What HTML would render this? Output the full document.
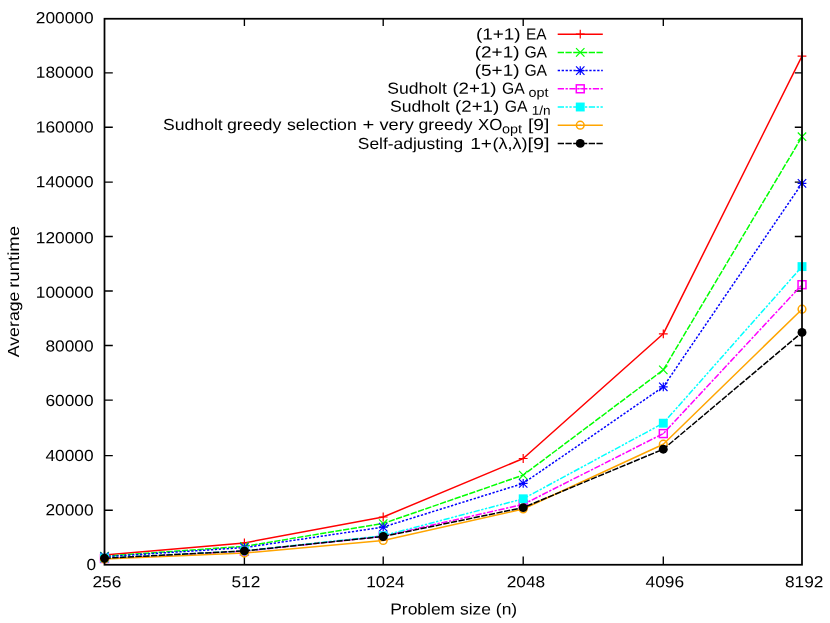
<!DOCTYPE html>
<html><head><meta charset="utf-8"><title>Average runtime vs problem size</title>
<style>
html,body{margin:0;padding:0;background:#fff;}
body{width:830px;height:623px;overflow:hidden;font-family:"Liberation Sans", sans-serif;}
svg{display:block;will-change:transform;}
svg text{font-family:"Liberation Sans", sans-serif;fill:#000;text-rendering:geometricPrecision;}
</style></head><body>
<svg width="830" height="623" viewBox="0 0 830 623">
<rect x="0" y="0" width="830" height="623" fill="#ffffff"/>

<path d="M104.5 510.20h8.3M802.0 510.20h-7.2M104.5 455.60h8.3M802.0 455.60h-7.2M104.5 400.05h8.3M802.0 400.05h-7.2M104.5 345.47h8.3M802.0 345.47h-7.2M104.5 291.04h8.3M802.0 291.04h-7.2M104.5 236.50h8.3M802.0 236.50h-7.2M104.5 182.07h8.3M802.0 182.07h-7.2M104.5 127.27h8.3M802.0 127.27h-7.2M104.5 72.90h8.3M802.0 72.90h-7.2M244.40 564.75v-8.2M244.40 18.75v7.2M383.20 564.75v-8.2M383.20 18.75v7.2M523.20 564.75v-8.2M523.20 18.75v7.2M663.30 564.75v-8.2M663.30 18.75v7.2" stroke="#000" stroke-width="1.35" fill="none"/>
<polyline points="104.50,555.10 244.40,542.90 383.20,517.00 523.20,458.50 663.30,333.80 802.00,56.05" fill="none" stroke="#ff0000" stroke-width="1.5" stroke-linejoin="round"/>
<path d="M100.10 555.10H108.90M104.50 550.70V559.50" stroke="#ff0000" stroke-width="1.2" fill="none"/>
<path d="M240.00 542.90H248.80M244.40 538.50V547.30" stroke="#ff0000" stroke-width="1.2" fill="none"/>
<path d="M378.80 517.00H387.60M383.20 512.60V521.40" stroke="#ff0000" stroke-width="1.2" fill="none"/>
<path d="M518.80 458.50H527.60M523.20 454.10V462.90" stroke="#ff0000" stroke-width="1.2" fill="none"/>
<path d="M658.90 333.80H667.70M663.30 329.40V338.20" stroke="#ff0000" stroke-width="1.2" fill="none"/>
<path d="M797.60 56.05H806.40M802.00 51.65V60.45" stroke="#ff0000" stroke-width="1.2" fill="none"/>
<polyline points="104.50,556.20 244.40,546.30 383.20,523.50 523.20,475.10 663.30,369.90 802.00,136.70" fill="none" stroke="#00ff00" stroke-width="1.5" stroke-dasharray="6.3 1.45" stroke-linejoin="round"/>
<path d="M100.30 552.00L108.70 560.40M100.30 560.40L108.70 552.00" stroke="#00ff00" stroke-width="1.2" fill="none"/>
<path d="M240.20 542.10L248.60 550.50M240.20 550.50L248.60 542.10" stroke="#00ff00" stroke-width="1.2" fill="none"/>
<path d="M379.00 519.30L387.40 527.70M379.00 527.70L387.40 519.30" stroke="#00ff00" stroke-width="1.2" fill="none"/>
<path d="M519.00 470.90L527.40 479.30M519.00 479.30L527.40 470.90" stroke="#00ff00" stroke-width="1.2" fill="none"/>
<path d="M659.10 365.70L667.50 374.10M659.10 374.10L667.50 365.70" stroke="#00ff00" stroke-width="1.2" fill="none"/>
<path d="M797.80 132.50L806.20 140.90M797.80 140.90L806.20 132.50" stroke="#00ff00" stroke-width="1.2" fill="none"/>
<polyline points="104.50,556.70 244.40,547.60 383.20,527.10 523.20,483.40 663.30,386.80 802.00,183.40" fill="none" stroke="#0000ff" stroke-width="1.5" stroke-dasharray="2.3 1.65" stroke-linejoin="round"/>
<path d="M100.10 556.70H108.90M104.50 552.30V561.10M100.30 552.50L108.70 560.90M100.30 560.90L108.70 552.50" stroke="#0000ff" stroke-width="1.2" fill="none"/>
<path d="M240.00 547.60H248.80M244.40 543.20V552.00M240.20 543.40L248.60 551.80M240.20 551.80L248.60 543.40" stroke="#0000ff" stroke-width="1.2" fill="none"/>
<path d="M378.80 527.10H387.60M383.20 522.70V531.50M379.00 522.90L387.40 531.30M379.00 531.30L387.40 522.90" stroke="#0000ff" stroke-width="1.2" fill="none"/>
<path d="M518.80 483.40H527.60M523.20 479.00V487.80M519.00 479.20L527.40 487.60M519.00 487.60L527.40 479.20" stroke="#0000ff" stroke-width="1.2" fill="none"/>
<path d="M658.90 386.80H667.70M663.30 382.40V391.20M659.10 382.60L667.50 391.00M659.10 391.00L667.50 382.60" stroke="#0000ff" stroke-width="1.2" fill="none"/>
<path d="M797.60 183.40H806.40M802.00 179.00V187.80M797.80 179.20L806.20 187.60M797.80 187.60L806.20 179.20" stroke="#0000ff" stroke-width="1.2" fill="none"/>
<polyline points="104.50,558.50 244.40,551.20 383.20,536.20 523.20,504.40 663.30,433.60 802.00,284.70" fill="none" stroke="#ff00ff" stroke-width="1.5" stroke-dasharray="6.3 1.55 2.3 1.55" stroke-linejoin="round"/>
<rect x="100.55" y="554.55" width="7.90" height="7.90" stroke="#ff00ff" stroke-width="1.5" fill="none"/><circle cx="104.50" cy="558.50" r="0.7" fill="#ff00ff"/>
<rect x="240.45" y="547.25" width="7.90" height="7.90" stroke="#ff00ff" stroke-width="1.5" fill="none"/><circle cx="244.40" cy="551.20" r="0.7" fill="#ff00ff"/>
<rect x="379.25" y="532.25" width="7.90" height="7.90" stroke="#ff00ff" stroke-width="1.5" fill="none"/><circle cx="383.20" cy="536.20" r="0.7" fill="#ff00ff"/>
<rect x="519.25" y="500.45" width="7.90" height="7.90" stroke="#ff00ff" stroke-width="1.5" fill="none"/><circle cx="523.20" cy="504.40" r="0.7" fill="#ff00ff"/>
<rect x="659.35" y="429.65" width="7.90" height="7.90" stroke="#ff00ff" stroke-width="1.5" fill="none"/><circle cx="663.30" cy="433.60" r="0.7" fill="#ff00ff"/>
<rect x="798.05" y="280.75" width="7.90" height="7.90" stroke="#ff00ff" stroke-width="1.5" fill="none"/><circle cx="802.00" cy="284.70" r="0.7" fill="#ff00ff"/>
<polyline points="104.50,558.10 244.40,550.90 383.20,535.70 523.20,498.80 663.30,423.20 802.00,266.60" fill="none" stroke="#00ffff" stroke-width="1.5" stroke-dasharray="6.3 1.55 2.3 1.55 2.3 1.55" stroke-linejoin="round"/>
<rect x="100.05" y="553.65" width="8.90" height="8.90" fill="#00ffff"/>
<rect x="239.95" y="546.45" width="8.90" height="8.90" fill="#00ffff"/>
<rect x="378.75" y="531.25" width="8.90" height="8.90" fill="#00ffff"/>
<rect x="518.75" y="494.35" width="8.90" height="8.90" fill="#00ffff"/>
<rect x="658.85" y="418.75" width="8.90" height="8.90" fill="#00ffff"/>
<rect x="797.55" y="262.15" width="8.90" height="8.90" fill="#00ffff"/>
<polyline points="104.50,559.10 244.40,553.10 383.20,540.40 523.20,509.00 663.30,444.20 802.00,309.20" fill="none" stroke="#ffa500" stroke-width="1.5" stroke-linejoin="round"/>
<circle cx="104.50" cy="559.10" r="3.85" stroke="#ffa500" stroke-width="1.5" fill="none"/><circle cx="104.50" cy="559.10" r="0.7" fill="#ffa500"/>
<circle cx="244.40" cy="553.10" r="3.85" stroke="#ffa500" stroke-width="1.5" fill="none"/><circle cx="244.40" cy="553.10" r="0.7" fill="#ffa500"/>
<circle cx="383.20" cy="540.40" r="3.85" stroke="#ffa500" stroke-width="1.5" fill="none"/><circle cx="383.20" cy="540.40" r="0.7" fill="#ffa500"/>
<circle cx="523.20" cy="509.00" r="3.85" stroke="#ffa500" stroke-width="1.5" fill="none"/><circle cx="523.20" cy="509.00" r="0.7" fill="#ffa500"/>
<circle cx="663.30" cy="444.20" r="3.85" stroke="#ffa500" stroke-width="1.5" fill="none"/><circle cx="663.30" cy="444.20" r="0.7" fill="#ffa500"/>
<circle cx="802.00" cy="309.20" r="3.85" stroke="#ffa500" stroke-width="1.5" fill="none"/><circle cx="802.00" cy="309.20" r="0.7" fill="#ffa500"/>
<polyline points="104.50,558.25 244.40,550.90 383.20,536.50 523.20,507.60 663.30,449.20 802.00,332.40" fill="none" stroke="#000000" stroke-width="1.5" stroke-dasharray="6.3 1.45" stroke-linejoin="round"/>
<circle cx="104.50" cy="558.25" r="4.45" fill="#000000"/>
<circle cx="244.40" cy="550.90" r="4.45" fill="#000000"/>
<circle cx="383.20" cy="536.50" r="4.45" fill="#000000"/>
<circle cx="523.20" cy="507.60" r="4.45" fill="#000000"/>
<circle cx="663.30" cy="449.20" r="4.45" fill="#000000"/>
<circle cx="802.00" cy="332.40" r="4.45" fill="#000000"/>
<line x1="557.7" y1="34.20" x2="602.8" y2="34.20" stroke="#ff0000" stroke-width="1.5"/>
<path d="M575.85 34.20H584.65M580.25 29.80V38.60" stroke="#ff0000" stroke-width="1.2" fill="none"/>
<line x1="557.7" y1="52.40" x2="602.8" y2="52.40" stroke="#00ff00" stroke-width="1.5" stroke-dasharray="6.3 1.45"/>
<path d="M576.05 48.20L584.45 56.60M576.05 56.60L584.45 48.20" stroke="#00ff00" stroke-width="1.2" fill="none"/>
<line x1="557.7" y1="70.60" x2="602.8" y2="70.60" stroke="#0000ff" stroke-width="1.5" stroke-dasharray="2.3 1.65"/>
<path d="M575.85 70.60H584.65M580.25 66.20V75.00M576.05 66.40L584.45 74.80M576.05 74.80L584.45 66.40" stroke="#0000ff" stroke-width="1.2" fill="none"/>
<line x1="557.7" y1="88.80" x2="602.8" y2="88.80" stroke="#ff00ff" stroke-width="1.5" stroke-dasharray="6.3 1.55 2.3 1.55"/>
<rect x="576.30" y="84.85" width="7.90" height="7.90" stroke="#ff00ff" stroke-width="1.5" fill="none"/><circle cx="580.25" cy="88.80" r="0.7" fill="#ff00ff"/>
<line x1="557.7" y1="107.00" x2="602.8" y2="107.00" stroke="#00ffff" stroke-width="1.5" stroke-dasharray="6.3 1.55 2.3 1.55 2.3 1.55"/>
<rect x="575.80" y="102.55" width="8.90" height="8.90" fill="#00ffff"/>
<line x1="557.7" y1="125.20" x2="602.8" y2="125.20" stroke="#ffa500" stroke-width="1.5"/>
<circle cx="580.25" cy="125.20" r="3.85" stroke="#ffa500" stroke-width="1.5" fill="none"/><circle cx="580.25" cy="125.20" r="0.7" fill="#ffa500"/>
<line x1="557.7" y1="143.40" x2="602.8" y2="143.40" stroke="#000000" stroke-width="1.5" stroke-dasharray="6.3 1.45"/>
<circle cx="580.25" cy="143.40" r="4.45" fill="#000000"/>
<rect x="104.5" y="18.75" width="697.5" height="546.0" stroke="#000" stroke-width="1.75" fill="none"/>
<text x="96.20" y="570.00" font-size="16.0" text-anchor="end" textLength="9.62" lengthAdjust="spacingAndGlyphs" transform="rotate(0.03,96.20,570.00)">0</text>
<text x="93.60" y="515.40" font-size="16.0" text-anchor="end" textLength="48.10" lengthAdjust="spacingAndGlyphs" transform="rotate(0.03,93.60,515.40)">20000</text>
<text x="93.60" y="461.00" font-size="16.0" text-anchor="end" textLength="48.10" lengthAdjust="spacingAndGlyphs" transform="rotate(0.03,93.60,461.00)">40000</text>
<text x="93.60" y="406.00" font-size="16.0" text-anchor="end" textLength="48.10" lengthAdjust="spacingAndGlyphs" transform="rotate(0.03,93.60,406.00)">60000</text>
<text x="93.60" y="351.60" font-size="16.0" text-anchor="end" textLength="48.10" lengthAdjust="spacingAndGlyphs" transform="rotate(0.03,93.60,351.60)">80000</text>
<text x="93.60" y="297.80" font-size="16.0" text-anchor="end" textLength="57.72" lengthAdjust="spacingAndGlyphs" transform="rotate(0.03,93.60,297.80)">100000</text>
<text x="93.60" y="243.20" font-size="16.0" text-anchor="end" textLength="57.72" lengthAdjust="spacingAndGlyphs" transform="rotate(0.03,93.60,243.20)">120000</text>
<text x="93.60" y="187.20" font-size="16.0" text-anchor="end" textLength="57.72" lengthAdjust="spacingAndGlyphs" transform="rotate(0.03,93.60,187.20)">140000</text>
<text x="93.60" y="132.50" font-size="16.0" text-anchor="end" textLength="57.72" lengthAdjust="spacingAndGlyphs" transform="rotate(0.03,93.60,132.50)">160000</text>
<text x="93.60" y="77.80" font-size="16.0" text-anchor="end" textLength="57.72" lengthAdjust="spacingAndGlyphs" transform="rotate(0.03,93.60,77.80)">180000</text>
<text x="93.60" y="23.20" font-size="16.0" text-anchor="end" textLength="57.72" lengthAdjust="spacingAndGlyphs" transform="rotate(0.03,93.60,23.20)">200000</text>
<text x="106.90" y="587.30" font-size="16.0" text-anchor="middle" textLength="28.86" lengthAdjust="spacingAndGlyphs" transform="rotate(0.03,106.90,587.30)">256</text>
<text x="245.90" y="587.30" font-size="16.0" text-anchor="middle" textLength="28.86" lengthAdjust="spacingAndGlyphs" transform="rotate(0.03,245.90,587.30)">512</text>
<text x="385.40" y="587.30" font-size="16.0" text-anchor="middle" textLength="38.48" lengthAdjust="spacingAndGlyphs" transform="rotate(0.03,385.40,587.30)">1024</text>
<text x="525.95" y="587.30" font-size="16.0" text-anchor="middle" textLength="38.48" lengthAdjust="spacingAndGlyphs" transform="rotate(0.03,525.95,587.30)">2048</text>
<text x="664.80" y="587.30" font-size="16.0" text-anchor="middle" textLength="38.48" lengthAdjust="spacingAndGlyphs" transform="rotate(0.03,664.80,587.30)">4096</text>
<text x="804.20" y="587.30" font-size="16.0" text-anchor="middle" textLength="38.48" lengthAdjust="spacingAndGlyphs" transform="rotate(0.03,804.20,587.30)">8192</text>
<text x="453.70" y="614.50" font-size="16.0" text-anchor="middle" textLength="127.00" lengthAdjust="spacingAndGlyphs" transform="rotate(0.03,453.70,614.50)">Problem size (n)</text>
<text transform="translate(19.3,357.30) rotate(-90)" font-size="16.0" text-anchor="start" textLength="65.80" lengthAdjust="spacingAndGlyphs">Average</text>
<text transform="translate(19.3,287.80) rotate(-90)" font-size="16.0" text-anchor="start" textLength="61.80" lengthAdjust="spacingAndGlyphs">runtime</text>
<text x="475.90" y="39.57" font-size="16.0" text-anchor="start" textLength="44.70" lengthAdjust="spacingAndGlyphs" transform="rotate(0.03,475.90,39.57)">(1+1)</text>
<text x="526.00" y="39.57" font-size="16.0" text-anchor="start" textLength="20.60" lengthAdjust="spacingAndGlyphs" transform="rotate(0.03,526.00,39.57)">EA</text>
<text x="474.80" y="57.46" font-size="16.0" text-anchor="start" textLength="44.70" lengthAdjust="spacingAndGlyphs" transform="rotate(0.03,474.80,57.46)">(2+1)</text>
<text x="524.40" y="57.46" font-size="16.0" text-anchor="start" textLength="22.70" lengthAdjust="spacingAndGlyphs" transform="rotate(0.03,524.40,57.46)">GA</text>
<text x="474.80" y="75.70" font-size="16.0" text-anchor="start" textLength="44.70" lengthAdjust="spacingAndGlyphs" transform="rotate(0.03,474.80,75.70)">(5+1)</text>
<text x="524.40" y="75.70" font-size="16.0" text-anchor="start" textLength="22.70" lengthAdjust="spacingAndGlyphs" transform="rotate(0.03,524.40,75.70)">GA</text>
<text x="387.30" y="93.64" font-size="16.0" text-anchor="start" textLength="59.50" lengthAdjust="spacingAndGlyphs" transform="rotate(0.03,387.30,93.64)">Sudholt</text>
<text x="452.40" y="93.64" font-size="16.0" text-anchor="start" textLength="44.10" lengthAdjust="spacingAndGlyphs" transform="rotate(0.03,452.40,93.64)">(2+1)</text>
<text x="502.10" y="93.64" font-size="16.0" text-anchor="start" textLength="22.70" lengthAdjust="spacingAndGlyphs" transform="rotate(0.03,502.10,93.64)">GA</text>
<text x="390.00" y="111.64" font-size="16.0" text-anchor="start" textLength="59.50" lengthAdjust="spacingAndGlyphs" transform="rotate(0.03,390.00,111.64)">Sudholt</text>
<text x="455.10" y="111.64" font-size="16.0" text-anchor="start" textLength="44.10" lengthAdjust="spacingAndGlyphs" transform="rotate(0.03,455.10,111.64)">(2+1)</text>
<text x="504.80" y="111.64" font-size="16.0" text-anchor="start" textLength="22.80" lengthAdjust="spacingAndGlyphs" transform="rotate(0.03,504.80,111.64)">GA</text>
<text x="163.10" y="130.00" font-size="16.0" text-anchor="start" textLength="59.60" lengthAdjust="spacingAndGlyphs" transform="rotate(0.03,163.10,130.00)">Sudholt</text>
<text x="226.90" y="130.00" font-size="16.0" text-anchor="start" textLength="54.50" lengthAdjust="spacingAndGlyphs" transform="rotate(0.03,226.90,130.00)">greedy</text>
<text x="287.00" y="130.00" font-size="16.0" text-anchor="start" textLength="69.80" lengthAdjust="spacingAndGlyphs" transform="rotate(0.03,287.00,130.00)">selection</text>
<text x="362.50" y="130.00" font-size="16.0" text-anchor="start" textLength="11.80" lengthAdjust="spacingAndGlyphs" transform="rotate(0.03,362.50,130.00)">+</text>
<text x="379.40" y="130.00" font-size="16.0" text-anchor="start" textLength="34.50" lengthAdjust="spacingAndGlyphs" transform="rotate(0.03,379.40,130.00)">very</text>
<text x="418.50" y="130.00" font-size="16.0" text-anchor="start" textLength="54.10" lengthAdjust="spacingAndGlyphs" transform="rotate(0.03,418.50,130.00)">greedy</text>
<text x="478.00" y="130.00" font-size="16.0" text-anchor="start" textLength="24.30" lengthAdjust="spacingAndGlyphs" transform="rotate(0.03,478.00,130.00)">XO</text>
<text x="528.00" y="130.00" font-size="16.0" text-anchor="start" textLength="21.40" lengthAdjust="spacingAndGlyphs" transform="rotate(0.03,528.00,130.00)">[9]</text>
<text x="357.80" y="148.90" font-size="16.0" text-anchor="start" textLength="105.40" lengthAdjust="spacingAndGlyphs" transform="rotate(0.03,357.80,148.90)">Self-adjusting</text>
<text x="470.20" y="148.90" font-size="16.0" text-anchor="start" textLength="21.80" lengthAdjust="spacingAndGlyphs" transform="rotate(0.03,470.20,148.90)">1+</text>
<text x="492.40" y="148.90" font-size="16.0" text-anchor="start" textLength="35.00" lengthAdjust="spacingAndGlyphs" transform="rotate(0.03,492.40,148.90)">(λ,λ)</text>
<text x="527.50" y="148.90" font-size="16.0" text-anchor="start" textLength="22.10" lengthAdjust="spacingAndGlyphs" transform="rotate(0.03,527.50,148.90)">[9]</text>
<text x="528.50" y="96.84" font-size="12.8" text-anchor="start" textLength="20.00" lengthAdjust="spacingAndGlyphs" transform="rotate(0.03,528.50,96.84)">opt</text>
<text x="531.70" y="114.84" font-size="12.8" text-anchor="start" textLength="18.90" lengthAdjust="spacingAndGlyphs" transform="rotate(0.03,531.70,114.84)">1/n</text>
<text x="501.90" y="133.20" font-size="12.8" text-anchor="start" textLength="20.00" lengthAdjust="spacingAndGlyphs" transform="rotate(0.03,501.90,133.20)">opt</text>
</svg>
</body></html>
